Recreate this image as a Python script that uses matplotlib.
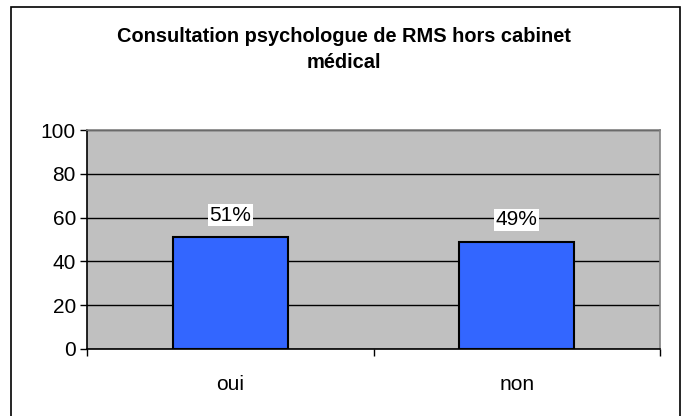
import matplotlib.pyplot as plt
from matplotlib.patches import Rectangle

categories = ["oui", "non"]
values = [51, 49]
labels = ["51%", "49%"]
yticks = [0, 20, 40, 60, 80, 100]

plt.rcParams["font.family"] = ["Liberation Sans", "DejaVu Sans"]

fig = plt.figure(figsize=(6.88, 4.16), dpi=100)
ax = fig.add_axes([87 / 688, 67 / 416, 573 / 688, 219 / 416])

# outer chart frame
fig.patches.append(Rectangle((11 / 688, -0.05), 669 / 688, 1.05 - 7 / 416,
                             transform=fig.transFigure, fill=False,
                             edgecolor="black", linewidth=1.2))

ax.set_facecolor("#c0c0c0")
x = range(len(categories))
ax.bar(x, values, width=0.4, color="#3366ff", edgecolor="black",
       linewidth=1.5, zorder=3)
for xi, v, lab in zip(x, values, labels):
    ax.text(xi, v + 10, lab, ha="center", va="center", fontsize=15,
            bbox=dict(facecolor="white", edgecolor="none", pad=1), zorder=4)

ax.set_ylim(0, 100)
ax.set_xlim(-0.5, 1.5)
ax.set_yticks(yticks)
ax.tick_params(axis="y", labelsize=15, length=5, width=1, direction="out", pad=3)
ax.yaxis.grid(True, color="black", linewidth=1)
ax.set_axisbelow(True)

ax.set_xticks(list(x))
ax.set_xticklabels(categories)
ax.tick_params(axis="x", which="major", length=0, labelsize=15, pad=19)
ax.set_xticks([-0.5, 0.5, 1.5], minor=True)
ax.tick_params(axis="x", which="minor", length=5, width=1, direction="out")

ax.spines["left"].set_color("black")
ax.spines["bottom"].set_color("black")
ax.spines["top"].set_color("#808080")
ax.spines["right"].set_color("#808080")
for s in ax.spines.values():
    s.set_linewidth(1.2)

fig.text(0.5, 1 - 37 / 416, "Consultation psychologue de RMS hors cabinet",
         ha="center", va="center", fontsize=14.4, fontweight="bold")
fig.text(0.5, 1 - 63 / 416, "médical",
         ha="center", va="center", fontsize=14.4, fontweight="bold")

fig.savefig("out.png", dpi=100)
